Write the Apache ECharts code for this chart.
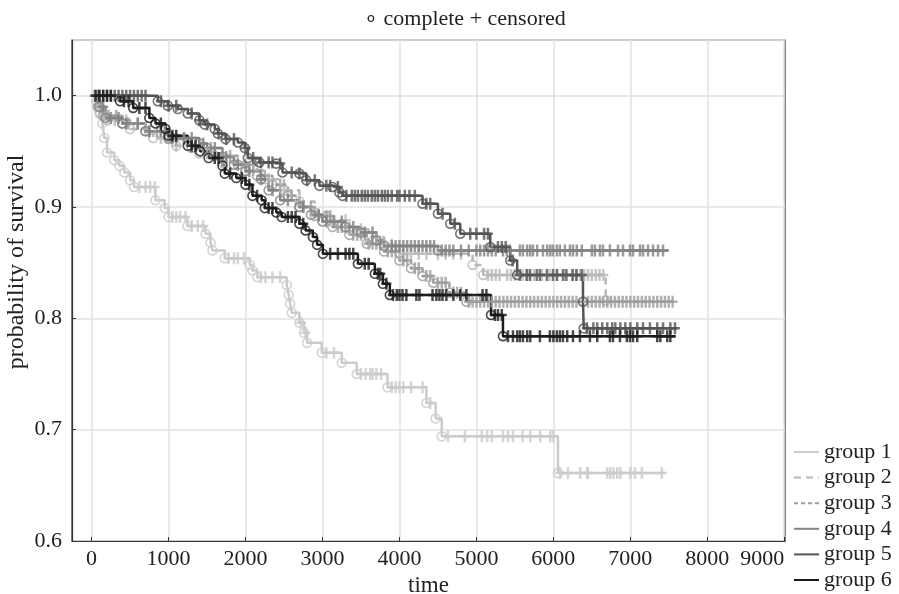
<!DOCTYPE html>
<html>
<head>
<meta charset="utf-8">
<title>survival curves</title>
<script src="https://cdn.jsdelivr.net/npm/echarts@6/dist/echarts.min.js"></script>
<style>
  html, body { margin: 0; padding: 0; background: #fff; }
  #chart { width: 899px; height: 594px; }
</style>
</head>
<body>
<div id="chart"></div>
<script>
const groupNames = ['group 1', 'group 2', 'group 3', 'group 4', 'group 5', 'group 6']
const xTicks = [0, 1000, 2000, 3000, 4000, 5000, 6000, 7000, 8000, 9000]

// step points [time, survival]
const steps1 = [[0, 1.0], [60, 0.995], [100, 0.99], [113, 0.983], [140, 0.975], [165, 0.962], [200, 0.949], [295, 0.942], [360, 0.937], [425, 0.931], [500, 0.924], [550, 0.918], [830, 0.906], [950, 0.899], [1000, 0.891], [1245, 0.883], [1480, 0.876], [1545, 0.868], [1570, 0.861], [1730, 0.854], [2055, 0.848], [2090, 0.843], [2155, 0.837], [2535, 0.830], [2560, 0.821], [2580, 0.813], [2600, 0.805], [2700, 0.796], [2760, 0.787], [2800, 0.778], [2990, 0.769], [3250, 0.760], [3445, 0.750], [3845, 0.738], [4350, 0.724], [4470, 0.710], [4550, 0.694], [6060, 0.661], [7450, 0.661]]
const steps2 = [[0, 1.0], [100, 0.985], [200, 0.978], [500, 0.97], [800, 0.962], [1100, 0.955], [1400, 0.948], [1700, 0.94], [2000, 0.933], [2250, 0.925], [2500, 0.915], [2700, 0.905], [2900, 0.895], [3100, 0.888], [3350, 0.88], [3600, 0.873], [3800, 0.866], [4000, 0.858], [4950, 0.848], [5090, 0.839], [6680, 0.816], [6720, 0.816]]
const steps3 = [[0, 1.0], [80, 0.99], [150, 0.982], [400, 0.975], [700, 0.968], [1000, 0.961], [1300, 0.953], [1600, 0.946], [1900, 0.938], [2150, 0.928], [2350, 0.92], [2550, 0.91], [2700, 0.90], [2900, 0.892], [3130, 0.882], [3350, 0.875], [3575, 0.867], [3800, 0.86], [4000, 0.852], [4150, 0.845], [4300, 0.838], [4440, 0.832], [4650, 0.823], [4870, 0.815], [7600, 0.815]]
const steps4 = [[0, 1.0], [100, 0.99], [180, 0.98], [400, 0.975], [700, 0.968], [1000, 0.962], [1400, 0.957], [1500, 0.953], [1700, 0.945], [1850, 0.938], [2000, 0.932], [2200, 0.925], [2300, 0.915], [2450, 0.906], [2700, 0.900], [2850, 0.893], [3000, 0.887], [3300, 0.882], [3500, 0.877], [3700, 0.870], [3800, 0.865], [4500, 0.861], [7500, 0.861]]
const steps5 = [[0, 1.0], [860, 0.995], [990, 0.991], [1120, 0.988], [1250, 0.984], [1400, 0.978], [1470, 0.974], [1600, 0.970], [1640, 0.966], [1740, 0.961], [1900, 0.958], [1990, 0.953], [2030, 0.944], [2180, 0.940], [2400, 0.939], [2480, 0.931], [2700, 0.930], [2790, 0.924], [2960, 0.919], [3130, 0.918], [3220, 0.913], [3260, 0.910], [4300, 0.903], [4500, 0.894], [4660, 0.885], [4790, 0.876], [5180, 0.864], [5440, 0.852], [5530, 0.839], [6385, 0.815], [6395, 0.791], [7610, 0.791]]
const steps6 = [[0, 1.0], [370, 0.995], [540, 0.989], [750, 0.980], [830, 0.975], [960, 0.970], [1000, 0.964], [1250, 0.955], [1410, 0.950], [1520, 0.944], [1700, 0.937], [1730, 0.930], [1880, 0.926], [2000, 0.920], [2090, 0.910], [2210, 0.906], [2250, 0.899], [2400, 0.895], [2470, 0.891], [2700, 0.885], [2780, 0.879], [2875, 0.873], [2930, 0.866], [3005, 0.858], [3460, 0.849], [3680, 0.840], [3785, 0.831], [3875, 0.821], [5190, 0.803], [5345, 0.784], [7590, 0.784]]

// censoring times
const censor1 = [30, 70, 620, 700, 760, 820, 1050, 1100, 1150, 1220, 1300, 1380, 1450, 1780, 1850, 1900, 1980, 2200, 2260, 2350, 2450, 2720, 2780, 3050, 3150, 3500, 3560, 3620, 3650, 3700, 3760, 3900, 3950, 4000, 4050, 4150, 4300, 4400, 4630, 4850, 5070, 5140, 5200, 5345, 5410, 5475, 5600, 5700, 5830, 5960, 6000, 6090, 6190, 6350, 6440, 6450, 6700, 6740, 6780, 6830, 6870, 7000, 7060, 7150, 7410]
const censor2 = [150, 300, 450, 700, 900, 1100, 1300, 1500, 1700, 1900, 2100, 2300, 2500, 2700, 2900, 3100, 3300, 3500, 3700, 3900, 4050, 4150, 4250, 4350, 4500, 4600, 4700, 4800, 5150, 5200, 5250, 5300, 5400, 5450, 5500, 5600, 5650, 5700, 5750, 5850, 5950, 6050, 6150, 6250, 6300, 6350, 6400, 6450, 6500, 6550, 6600, 6650]
const censor3 = [50, 120, 220, 320, 480, 600, 750, 850, 950, 1100, 1200, 1350, 1450, 1550, 1700, 1800, 2000, 2100, 2250, 2450, 2600, 2750, 2850, 2950, 3050, 3100, 3200, 3250, 3300, 3400, 3450, 3500, 3600, 3650, 3700, 3750, 3850, 3900, 3950, 4050, 4100, 4200, 4250, 4350, 4400, 4500, 4550, 4600, 4700, 4750, 4800, 4900, 4950, 5000, 5050, 5100, 5150, 5200, 5250, 5300, 5350, 5400, 5450, 5500, 5550, 5600, 5650, 5700, 5750, 5800, 5850, 5900, 5950, 6000, 6050, 6100, 6150, 6200, 6250, 6300, 6450, 6500, 6550, 6600, 6650, 6700, 6750, 6800, 6850, 6900, 6950, 7000, 7050, 7100, 7150, 7200, 7250, 7300, 7350, 7400, 7450, 7500, 7550]
const censor4 = [80, 150, 250, 350, 450, 600, 750, 900, 1050, 1200, 1300, 1450, 1600, 1750, 1900, 2050, 2200, 2350, 2550, 2750, 2950, 3050, 3150, 3250, 3400, 3550, 3650, 3900, 3950, 4000, 4050, 4100, 4150, 4200, 4250, 4300, 4350, 4400, 4450, 4550, 4600, 4650, 4700, 4800, 4900, 5000, 5050, 5100, 5150, 5200, 5250, 5345, 5395, 5435, 5565, 5605, 5660, 5700, 5735, 5790, 5865, 5920, 5960, 5995, 6045, 6085, 6150, 6215, 6255, 6305, 6370, 6500, 6540, 6605, 6645, 6735, 6840, 6905, 6995, 7035, 7125, 7165, 7230, 7295, 7360, 7425]
const censor5 = [100, 150, 200, 250, 300, 350, 400, 450, 500, 550, 600, 650, 700, 900, 1000, 1100, 1300, 1400, 1500, 1650, 1750, 1850, 2000, 2100, 2200, 2300, 2350, 2450, 2600, 2700, 2800, 2900, 3050, 3100, 3200, 3310, 3380, 3420, 3460, 3510, 3550, 3590, 3640, 3680, 3720, 3770, 3810, 3850, 3900, 3970, 4000, 4070, 4130, 4200, 4350, 4400, 4560, 4720, 4920, 5000, 5100, 5150, 5280, 5330, 5380, 5470, 5565, 5655, 5695, 5785, 5825, 5915, 5995, 6045, 6125, 6170, 6250, 6300, 6370, 6435, 6520, 6570, 6635, 6700, 6765, 6805, 6870, 6935, 7000, 7090, 7165, 7255, 7350, 7425, 7520, 7580]
const censor6 = [50, 100, 150, 200, 250, 420, 480, 620, 700, 900, 1050, 1100, 1300, 1350, 1600, 1650, 1800, 1950, 2050, 2150, 2300, 2350, 2550, 2600, 2650, 2750, 3100, 3200, 3300, 3350, 3400, 3550, 3600, 3720, 3750, 3830, 3915, 3965, 4000, 4040, 4090, 4220, 4260, 4430, 4480, 4520, 4560, 4610, 4700, 4790, 4870, 5080, 5130, 5240, 5280, 5330, 5410, 5475, 5530, 5565, 5605, 5660, 5700, 5825, 5955, 6000, 6045, 6085, 6125, 6180, 6255, 6345, 6475, 6570, 6735, 6775, 6865, 6955, 6995, 7035, 7090, 7350, 7390, 7480, 7520]

const colors = ['#cbcbcb', '#b8b8b8', '#9d9d9d', '#828282', '#545454', '#1c1c1c']
const dashes = ['solid', [7, 5], [4, 3], 'solid', 'solid', 'solid']

const allSteps = [steps1, steps2, steps3, steps4, steps5, steps6]
const allCensor = [censor1, censor2, censor3, censor4, censor5, censor6]

const fontFamily = 'Liberation Serif'
const crossPath = 'path://M3.75,0H6.25V12H3.75ZM0,4.75H10V7.25H0Z'

// survival value at time t from the step list
function survAt(steps, t) {
  let s = steps[0][1]
  for (const p of steps) {
    if (p[0] <= t) s = p[1]
    else break
  }
  return s
}

const seriesArr = []
groupNames.forEach((name, i) => {
  const steps = allSteps[i]
  seriesArr.push({
    name: name,
    type: 'line',
    step: 'end',
    data: steps,
    symbol: 'none',
    silent: true,
    z: 2,
    itemStyle: { color: colors[i] },
    lineStyle: { color: colors[i], width: 2.5, type: dashes[i] }
  })
  seriesArr.push({
    name: name + ' censored',
    type: 'scatter',
    symbol: crossPath,
    symbolSize: [10, 12],
    silent: true,
    z: 3,
    itemStyle: { color: colors[i] },
    data: allCensor[i].map(t => [t, survAt(steps, t)])
  })
  seriesArr.push({
    name: name + ' complete',
    type: 'scatter',
    symbol: 'circle',
    symbolSize: 9,
    silent: true,
    z: 3,
    itemStyle: { color: 'rgba(0,0,0,0)', borderColor: colors[i], borderWidth: 1.6 },
    data: steps.slice(1, -1)
  })
})

const chart = echarts.init(document.getElementById('chart'))
chart.setOption({
  animation: false,
  backgroundColor: '#fff',
  textStyle: { fontFamily: fontFamily },
  title: {
    text: '∘ complete + censored',
    left: 359,
    top: 3,
    textStyle: { fontFamily: fontFamily, fontSize: 22, fontWeight: 'normal', color: '#222' }
  },
  grid: {
    left: 72,
    right: 114,
    top: 40,
    bottom: 53,
    containLabel: false,
    outerBoundsMode: 'none',
    show: true,
    borderColor: '#333',
    borderWidth: 1.2
  },
  legend: {
    data: groupNames,
    orient: 'vertical',
    left: 793,
    top: 441,
    padding: 0,
    itemWidth: 25,
    itemHeight: 14,
    itemGap: 3.6,
    itemStyle: { color: 'rgba(0,0,0,0)', borderColor: 'rgba(0,0,0,0)', borderWidth: 0 },
    textStyle: { fontFamily: fontFamily, fontSize: 22, color: '#222', lineHeight: 22 }
  },
  xAxis: {
    type: 'value',
    min: -255,
    max: 9010,
    name: 'time',
    nameLocation: 'middle',
    nameGap: 29,
    nameTextStyle: { fontFamily: fontFamily, fontSize: 23, color: '#222' },
    axisLine: { show: true, lineStyle: { color: '#333', width: 1.2 } },
    axisTick: { inside: true, length: 4, customValues: xTicks, lineStyle: { color: '#333' } },
    axisLabel: {
      customValues: xTicks,
      margin: 7,
      fontFamily: fontFamily,
      fontSize: 22,
      color: '#222',
      alignMaxLabel: 'right',
      formatter: v => String(v)
    },
    splitLine: { show: true, lineStyle: { color: '#e2e2e2', width: 1.5 } }
  },
  yAxis: {
    type: 'value',
    min: 0.6,
    max: 1.05,
    interval: 0.1,
    axisLine: { show: true, onZero: false, lineStyle: { color: '#333', width: 1.2 } },
    axisTick: { inside: true, length: 4, lineStyle: { color: '#333' } },
    axisLabel: {
      showMaxLabel: false,
      margin: 10,
      fontFamily: fontFamily,
      fontSize: 22,
      color: '#222',
      formatter: v => v.toFixed(1)
    },
    splitLine: { show: true, lineStyle: { color: '#e2e2e2', width: 1.5 } }
  },
  graphic: [
    {
      type: 'text',
      x: 17,
      y: 262,
      rotation: Math.PI / 2,
      style: {
        text: 'probability of survival',
        textAlign: 'center',
        textVerticalAlign: 'middle',
        fontFamily: fontFamily,
        fontSize: 24,
        fill: '#222'
      }
    }
  ],
  series: seriesArr
})
</script>
</body>
</html>
